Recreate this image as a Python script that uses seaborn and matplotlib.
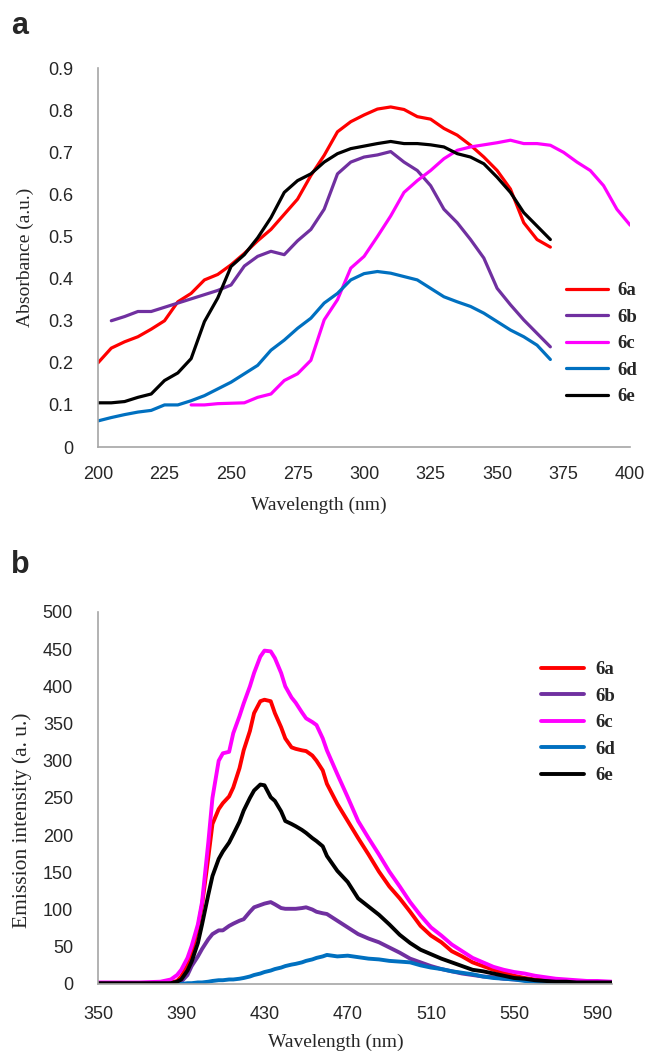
import numpy as np
import pandas as pd
import seaborn as sns
import matplotlib.pyplot as plt

sns.set_style("white")
plt.rcParams["font.family"] = ["Liberation Serif", "DejaVu Serif"]

names = ["6a", "6b", "6c", "6d", "6e"]
colors = {"6a": "#FF0000", "6b": "#7030A0", "6c": "#FF00FF", "6d": "#0070C0", "6e": "#000000"}

# panel a: absorbance
wl_a = list(range(200, 371, 5))
wl_b_abs = list(range(205, 371, 5))
wl_c_abs = list(range(235, 401, 5))
abs_6a = [0.20, 0.235, 0.25, 0.262, 0.28, 0.30, 0.345, 0.365, 0.397, 0.41,
          0.433, 0.46, 0.49, 0.517, 0.553, 0.589, 0.645, 0.693, 0.749, 0.773,
          0.789, 0.803, 0.808, 0.802, 0.785, 0.779, 0.757, 0.741, 0.717, 0.689,
          0.657, 0.613, 0.533, 0.493, 0.475]
abs_6b = [0.30, 0.31, 0.322, 0.322, 0.332, 0.342, 0.352, 0.362, 0.372, 0.385,
          0.43, 0.453, 0.465, 0.457, 0.49, 0.517, 0.565, 0.649, 0.677, 0.689,
          0.694, 0.702, 0.677, 0.657, 0.621, 0.565, 0.533, 0.493, 0.449, 0.377,
          0.338, 0.302, 0.27, 0.238]
abs_6c = [0.10, 0.10, 0.103, 0.104, 0.105, 0.118, 0.126, 0.158, 0.174, 0.206,
          0.302, 0.35, 0.425, 0.453, 0.50, 0.549, 0.605, 0.633, 0.657, 0.685,
          0.705, 0.713, 0.718, 0.723, 0.729, 0.721, 0.721, 0.717, 0.70, 0.677,
          0.657, 0.621, 0.565, 0.527]
abs_6d = [0.062, 0.07, 0.077, 0.083, 0.087, 0.10, 0.10, 0.11, 0.122, 0.138,
          0.154, 0.174, 0.194, 0.23, 0.254, 0.282, 0.306, 0.342, 0.365, 0.397,
          0.412, 0.417, 0.413, 0.405, 0.397, 0.377, 0.357, 0.345, 0.334, 0.318,
          0.298, 0.278, 0.262, 0.242, 0.208]
abs_6e = [0.105, 0.105, 0.108, 0.118, 0.126, 0.158, 0.176, 0.21, 0.298, 0.354,
          0.429, 0.457, 0.497, 0.545, 0.605, 0.633, 0.649, 0.677, 0.697, 0.709,
          0.715, 0.721, 0.726, 0.721, 0.721, 0.718, 0.713, 0.697, 0.689, 0.673,
          0.641, 0.605, 0.557, 0.525, 0.493]

# panel b: emission
wl_em = [350, 360, 370, 380, 385, 388, 390, 393, 395, 398,
         400, 403, 405, 408, 410, 413, 415, 418, 420, 423,
         425, 428, 430, 433, 435, 438, 440, 443, 445, 448,
         450, 453, 455, 458, 460, 465, 470, 475, 480, 485,
         490, 495, 500, 505, 510, 515, 520, 525, 530, 535,
         540, 545, 550, 555, 560, 565, 570, 575, 580, 585,
         590, 597]
em_6a = [1, 1, 1, 1, 2, 4, 10, 25, 42, 75,
         106, 170, 215, 235, 243, 252, 264, 290, 314, 340,
         364, 380, 382, 380, 364, 345, 330, 318, 316, 314,
         313, 307, 300, 287, 269, 242, 219, 196, 174, 151,
         131, 115, 97, 78, 65, 56, 44, 37, 29, 24,
         19, 15, 11, 8, 6, 5, 4, 3, 3, 2,
         2, 2]
em_6b = [1, 1, 1, 1, 1, 2, 3, 12, 24, 37,
         47, 60, 67, 72, 72, 78, 81, 85, 87, 97,
         103, 106, 108, 110, 107, 102, 101, 101, 101, 102,
         103, 100, 97, 95, 94, 85, 76, 67, 61, 56,
         49, 42, 34, 29, 24, 20, 17, 14, 12, 10,
         9, 7, 6, 5, 4, 3, 3, 2, 2, 1,
         1, 1]
em_6c = [2, 2, 2, 3, 6, 12, 19, 35, 51, 80,
         110, 190, 250, 300, 310, 312, 337, 360, 377, 400,
         418, 440, 448, 447, 438, 418, 400, 385, 378, 365,
         357, 352, 348, 330, 314, 282, 251, 219, 196, 174,
         151, 131, 110, 92, 76, 65, 53, 44, 35, 29,
         23, 19, 16, 14, 11, 9, 7, 6, 5, 4,
         4, 3]
em_6d = [0, 0, 0, 0, 0, 0, 0, 1, 1, 2,
         2, 3, 4, 5, 5, 6, 6, 7, 8, 10,
         12, 14, 16, 18, 20, 22, 24, 26, 27, 29,
         31, 33, 35, 37, 39, 37, 38, 36, 34, 33,
         31, 30, 29, 25, 22, 20, 17, 15, 13, 10,
         8, 7, 6, 4, 3, 2, 2, 1, 1, 1,
         1, 1]
em_6e = [1, 1, 1, 1, 1, 3, 6, 18, 30, 55,
         80, 120, 145, 168, 178, 190, 201, 218, 233, 250,
         260, 268, 267, 251, 246, 232, 219, 215, 212, 207,
         203, 196, 192, 185, 172, 152, 137, 115, 104, 93,
         80, 66, 55, 46, 40, 34, 29, 24, 19, 17,
         14, 11, 8, 7, 5, 4, 3, 3, 2, 2,
         2, 2]


def long_frame(pairs):
    rows = []
    for name, (x, y) in zip(names, pairs):
        rows.append(pd.DataFrame({"wl": x, "val": y, "compound": name}))
    return pd.concat(rows, ignore_index=True)


df_a = long_frame([(wl_a, abs_6a), (wl_b_abs, abs_6b), (wl_c_abs, abs_6c),
                   (wl_a, abs_6d), (wl_a, abs_6e)])
df_b = long_frame([(wl_em, em_6a), (wl_em, em_6b), (wl_em, em_6c),
                   (wl_em, em_6d), (wl_em, em_6e)])

fig = plt.figure(figsize=(6.49, 10.58), dpi=100)
ax1 = fig.add_axes([0.151, 0.5775, 0.82, 0.358])
ax2 = fig.add_axes([0.151, 0.070, 0.792, 0.3516])

tick_font = ["Liberation Sans Narrow", "Liberation Sans", "DejaVu Sans"]


def style_axes(ax):
    for s in ["top", "right"]:
        ax.spines[s].set_visible(False)
    for s in ["left", "bottom"]:
        ax.spines[s].set_color("#A6A6A6")
        ax.spines[s].set_linewidth(1.2)
    ax.tick_params(length=0, labelsize=13)
    for lab in ax.get_xticklabels() + ax.get_yticklabels():
        lab.set_family(tick_font)


# --- panel a
sns.lineplot(data=df_a, x="wl", y="val", hue="compound", palette=colors,
             estimator=None, sort=False, linewidth=2.3, ax=ax1)
ax1.set_xlim(200, 400)
ax1.set_ylim(0, 0.9)
ax1.set_xticks(range(200, 401, 25))
ax1.set_yticks(np.arange(0, 0.91, 0.1))
ax1.set_yticklabels(["0"] + ["%.1f" % v for v in np.arange(0.1, 0.91, 0.1)])
ax1.tick_params(axis="x", pad=14)
ax1.tick_params(axis="y", pad=18)
style_axes(ax1)
ax1.set_xlabel("Wavelength (nm)", fontsize=14)
ax1.set_ylabel("Absorbance (a.u.)", fontsize=14)
ax1.xaxis.set_label_coords(0.415, -0.13)
ax1.yaxis.set_label_coords(-0.12, 0.5)
h, l = ax1.get_legend_handles_labels()
ax1.legend(h, l, loc="upper left", bbox_to_anchor=(0.88, 0.435), frameon=False,
           borderpad=0, borderaxespad=0, handlelength=2.2, handletextpad=0.5,
           labelspacing=0.5, prop={"family": "Liberation Serif", "weight": "bold", "size": 13.5})

# --- panel b
sns.lineplot(data=df_b, x="wl", y="val", hue="compound", palette=colors,
             estimator=None, sort=False, linewidth=2.8, ax=ax2)
ax2.set_xlim(350, 597)
ax2.set_ylim(0, 500)
ax2.set_xticks(range(350, 591, 40))
ax2.set_yticks(range(0, 501, 50))
ax2.tick_params(axis="x", pad=16)
ax2.tick_params(axis="y", pad=18)
style_axes(ax2)
ax2.set_xlabel("Wavelength (nm)", fontsize=14)
ax2.set_ylabel("Emission intensity (a. u.)", fontsize=15.5)
ax2.xaxis.set_label_coords(0.463, -0.135)
ax2.yaxis.set_label_coords(-0.128, 0.44)
h, l = ax2.get_legend_handles_labels()
ax2.legend(h, l, loc="upper left", bbox_to_anchor=(0.862, 0.868), frameon=False,
           borderpad=0, borderaxespad=0, handlelength=2.3, handletextpad=0.6,
           labelspacing=0.5, prop={"family": "Liberation Serif", "weight": "bold", "size": 13.5})

fig.text(0.017, 0.968, "a", fontsize=22, fontweight="bold", family="Liberation Sans")
fig.text(0.017, 0.458, "b", fontsize=22, fontweight="bold", family="Liberation Sans")

fig.savefig("out.png", dpi=100)
